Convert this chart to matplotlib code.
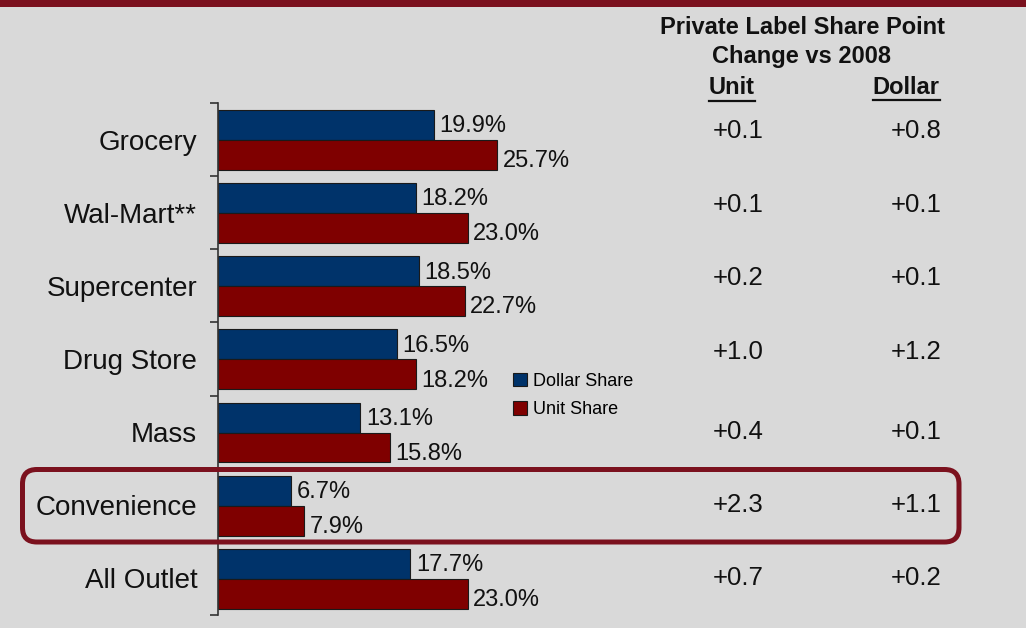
import matplotlib
matplotlib.use("Agg")
import matplotlib.pyplot as plt
from matplotlib.patches import Patch, FancyBboxPatch, Rectangle
from matplotlib.lines import Line2D
import numpy as np

plt.rcParams['font.family'] = ['Liberation Sans', 'DejaVu Sans']

# private label share by channel (%)
channels = ['Grocery', 'Wal-Mart**', 'Supercenter', 'Drug Store', 'Mass',
            'Convenience', 'All Outlet']
dollar_share = [19.9, 18.2, 18.5, 16.5, 13.1, 6.7, 17.7]
unit_share = [25.7, 23.0, 22.7, 18.2, 15.8, 7.9, 23.0]

# share point change vs 2008
unit_change = ['+0.1', '+0.1', '+0.2', '+1.0', '+0.4', '+2.3', '+0.7']
dollar_change = ['+0.8', '+0.1', '+0.1', '+1.2', '+0.1', '+1.1', '+0.2']

bg = '#D9D9D9'
navy = '#00336A'
maroon = '#7F0000'
band = '#7B111E'

W, H = 1026, 628
fig = plt.figure(figsize=(W / 100, H / 100), dpi=100, facecolor=bg)


def px(x, y):
    # pixel position (from top-left) -> figure fraction
    return x / W, 1 - y / H


ax_left, ax_top, ax_bot = 218, 103, 615
ax_right = ax_left + 30 * 10.86
ax = fig.add_axes([ax_left / W, 1 - ax_bot / H,
                   (ax_right - ax_left) / W, (ax_bot - ax_top) / H])
ax.set_facecolor(bg)
ax.patch.set_alpha(0)

y = np.arange(len(channels))
h = 0.41
ax.barh(y - 0.2, dollar_share, height=h, color=navy, edgecolor='#1a1a1a',
        linewidth=0.8, label='Dollar Share')
ax.barh(y + 0.21, unit_share, height=h, color=maroon, edgecolor='#1a1a1a',
        linewidth=0.8, label='Unit Share')

for yi, d, u in zip(y, dollar_share, unit_share):
    ax.annotate('{:.1f}%'.format(d), (d, yi - 0.2), xytext=(4, -1),
                textcoords='offset points', va='center', ha='left',
                fontsize=17, color='#111111')
    ax.annotate('{:.1f}%'.format(u), (u, yi + 0.21), xytext=(4, -4.5),
                textcoords='offset points', va='center', ha='left',
                fontsize=17, color='#111111')

ax.set_xlim(0, 30)
ax.set_ylim(len(channels) - 0.5, -0.5)
ax.set_yticks(y)
ax.set_yticklabels(channels, fontsize=20)
ax.tick_params(axis='y', which='major', length=0, pad=15, colors='#111111')
ax.set_yticks(np.arange(-0.5, len(channels), 1.0), minor=True)
ax.tick_params(axis='y', which='minor', length=6, width=1.2, color='#333333')
ax.set_xticks([])
for s in ['top', 'right', 'bottom']:
    ax.spines[s].set_visible(False)
ax.spines['left'].set_color('#333333')
ax.spines['left'].set_linewidth(1.2)

# top band
fig.patches.append(Rectangle((0, 1 - 7 / H), 1, 7 / H, transform=fig.transFigure,
                             facecolor=band, edgecolor='none'))

# header for the change columns
fig.text(*px(802, 28), 'Private Label Share Point', ha='center', va='center',
         fontsize=17, fontweight='bold', color='#111111')
fig.text(*px(802, 56), 'Change vs 2008', ha='center', va='center',
         fontsize=17, fontweight='bold', color='#111111')
heads = [fig.text(*px(732, 88), 'Unit', ha='center', va='center', fontsize=17,
                  fontweight='bold', color='#111111'),
         fig.text(*px(906, 87), 'Dollar', ha='center', va='center', fontsize=17,
                  fontweight='bold', color='#111111')]
renderer = fig.canvas.get_renderer()
for t in heads:
    bb = t.get_window_extent(renderer)
    yl = bb.y0 - 1.5
    fig.lines.append(Line2D([bb.x0 / W, bb.x1 / W], [yl / H, yl / H],
                            transform=fig.transFigure, color='#111111', lw=1.6))

# change values, one row per channel
row_nudge = [-8.5, -8, -8, -7, 0, 0, 0]
for i, (uc, dc) in enumerate(zip(unit_change, dollar_change)):
    row_y = ax_top + (ax_bot - ax_top) / len(channels) * (i + 0.5) + row_nudge[i]
    fig.text(*px(738, row_y), uc, ha='center', va='center', fontsize=18.5,
             color='#111111')
    fig.text(*px(916, row_y), dc, ha='center', va='center', fontsize=18.5,
             color='#111111')

# legend
handles = [Patch(facecolor=navy, edgecolor='#1a1a1a', lw=0.8),
           Patch(facecolor=maroon, edgecolor='#1a1a1a', lw=0.8)]
fig.legend(handles, ['Dollar Share', 'Unit Share'], loc='upper left',
           bbox_to_anchor=px(513, 373), frameon=False, fontsize=13,
           handlelength=0.75, handleheight=0.75, handletextpad=0.35,
           labelspacing=0.62, borderpad=0, borderaxespad=0)

# highlight around the Convenience row
x0, y0, x1, y1 = 22.5, 469.5, 959, 542
box = FancyBboxPatch((x0 / W, 1 - y1 / H), (x1 - x0) / W, (y1 - y0) / H,
                     boxstyle='round,pad=0,rounding_size=0.014',
                     transform=fig.transFigure, mutation_aspect=W / H,
                     facecolor='none', edgecolor=band, linewidth=3.6)
fig.patches.append(box)

fig.savefig('out.png', dpi=100, facecolor=bg)
